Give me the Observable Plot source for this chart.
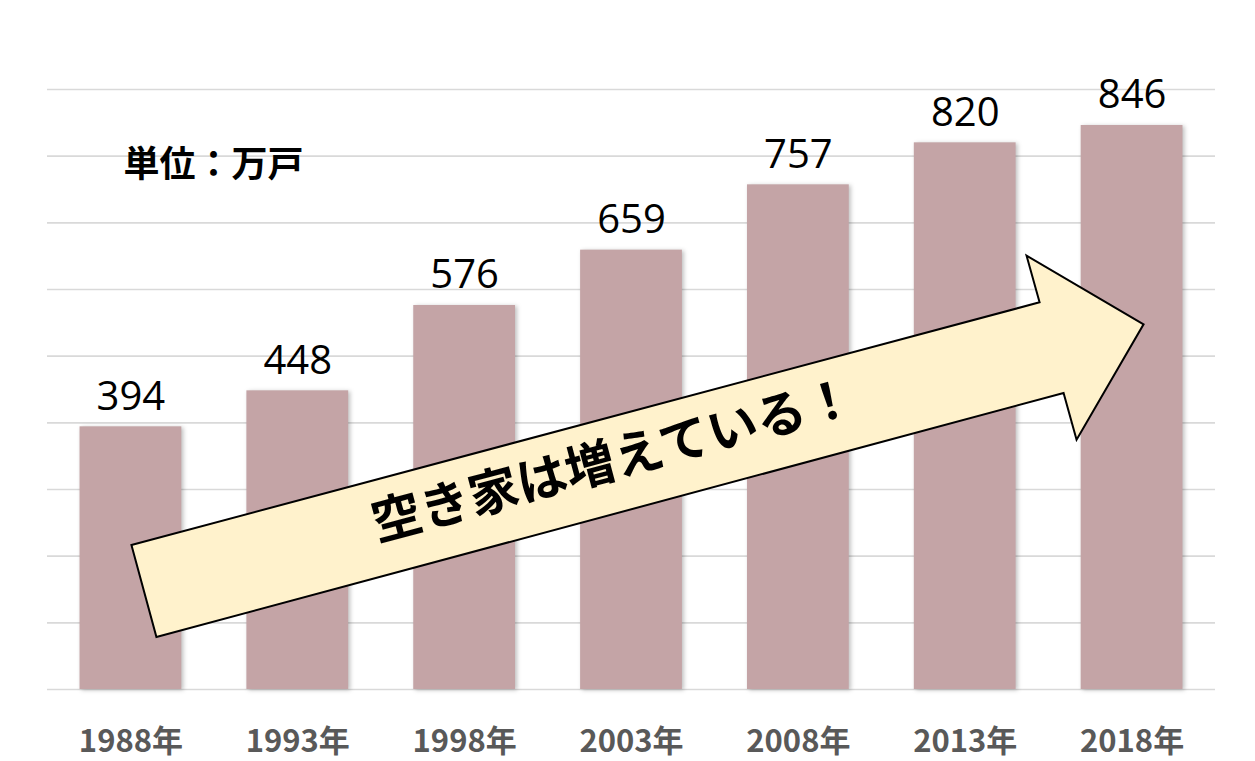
<!DOCTYPE html>
<html>
<head>
<meta charset="utf-8">
<script src="https://cdn.jsdelivr.net/npm/d3@7"></script>
<script src="https://cdn.jsdelivr.net/npm/@observablehq/plot@0.6"></script>
<style>
  html, body { margin: 0; padding: 0; background: #fff; }
  #chart { width: 1255px; height: 761px; }
</style>
</head>
<body>
<div id="chart"></div>
<script>
const years = ["1988年", "1993年", "1998年", "2003年", "2008年", "2013年", "2018年"];
const values = [394, 448, 576, 659, 757, 820, 846];
const yTicks = [0, 100, 200, 300, 400, 500, 600, 700, 800, 900];
const unitLabel = "単位：万戸";
const arrowLabel = "空き家は増えている！";
// arrow outline: [category, pixel offset from band centre, value]
const arrowPts = [
  ["1988年", 1, 216], ["2018年", -92, 580], ["2018年", -105, 650],
  ["2018年", 12, 547], ["2018年", -55, 374], ["2018年", -68, 444],
  ["1988年", 26, 78]
];

const data = years.map((y, i) => ({year: y, value: values[i]}));
const cjk = "'Noto Sans CJK JP', 'Noto Sans', sans-serif";

const arrowMark = (index, scales, vals, dims, context) => {
  const bw = scales.x.bandwidth();
  const pts = arrowPts.map(([c, dx, v]) => [scales.x(c) + bw / 2 + dx, scales.y(v)]);
  const g = d3.create("svg:g");
  g.append("polygon")
    .attr("points", pts.map(p => p.join(",")).join(" "))
    .attr("fill", "#FFF2CC")
    .attr("stroke", "#000")
    .attr("stroke-width", 2)
    .attr("stroke-linejoin", "miter");
  return g.node();
};

const chart = Plot.plot({
  width: 1255,
  height: 761,
  marginLeft: 47,
  marginRight: 40,
  marginTop: 89,
  marginBottom: 72,
  style: {background: "#fff", fontFamily: cjk},
  x: {domain: years, paddingInner: 0.39, paddingOuter: 0.195, round: false, axis: null},
  y: {domain: [0, 900], axis: null},
  marks: [
    Plot.ruleY(yTicks, {stroke: "#D9D9D9", strokeWidth: 1.6}),
    Plot.barY(data, {x: "year", y: "value", fill: "#C4A4A6"}),
    Plot.text(data, {x: "year", y: "value", text: d => String(d.value), dy: -30,
      fontSize: 40, fill: "#000", fontFamily: "'Open Sans', sans-serif"}),
    Plot.axisX({tickSize: 0, tickPadding: 0, dy: 40, fontSize: 31, fontWeight: "bold",
      fill: "#595959", fontFamily: cjk, anchor: "bottom", label: null}),
    Plot.text([unitLabel], {frameAnchor: "top-left", dx: 76, dy: 62, textAnchor: "start",
      fontSize: 36, fontWeight: "bold", fill: "#000", fontFamily: cjk}),
    arrowMark,
    Plot.text([arrowLabel], {x: () => "2003年", y: () => 339, dx: -18, dy: -2, rotate: -15,
      fontSize: 50, fontWeight: "bold", fill: "#000", fontFamily: cjk})
  ]
});

d3.select(chart).selectAll("g[aria-label='bar'] rect")
  .style("filter", "drop-shadow(2px 1px 2px rgba(0,0,0,0.25))");

document.getElementById("chart").appendChild(chart);
</script>
</body>
</html>
